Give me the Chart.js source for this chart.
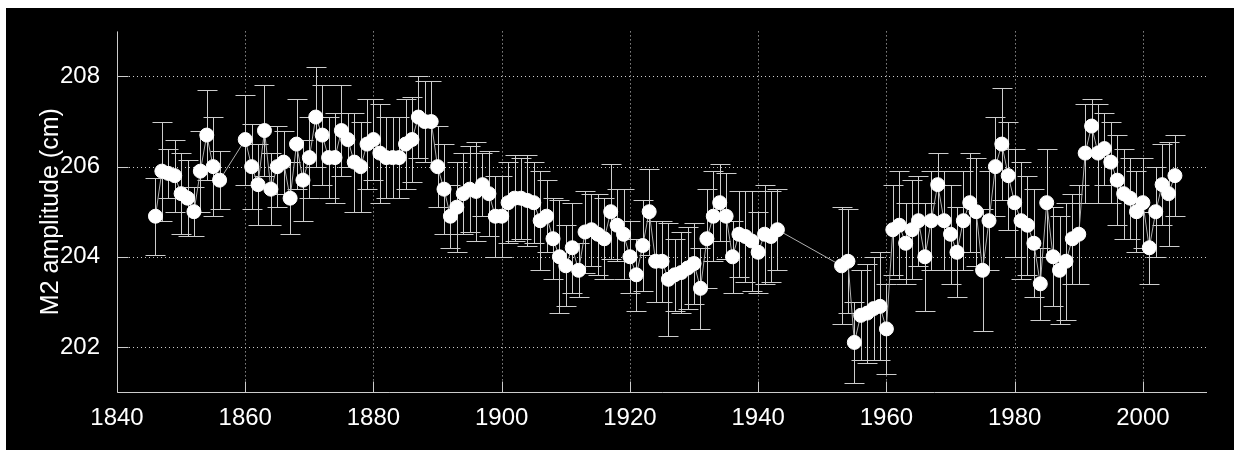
<!DOCTYPE html>
<html>
<head>
<meta charset="utf-8">
<script src="https://cdn.jsdelivr.net/npm/chart.js@4"></script>
<style>
  body { margin: 0; background: #fff; }
  #wrap { position: absolute; left: 6px; top: 8px; width: 1228px; height: 442px; background: #000; }
</style>
</head>
<body>
<div id="wrap"><canvas id="chart_1"></canvas></div>
<script>
// yearly M2 amplitude (gaps 1857-59 and 1944-52)
var years = [
  1846, 1847, 1848, 1849, 1850, 1851, 1852, 1853, 1854, 1855, 1856,
  1860, 1861, 1862, 1863, 1864, 1865, 1866, 1867, 1868, 1869,
  1870, 1871, 1872, 1873, 1874, 1875, 1876, 1877, 1878, 1879,
  1880, 1881, 1882, 1883, 1884, 1885, 1886, 1887, 1888, 1889,
  1890, 1891, 1892, 1893, 1894, 1895, 1896, 1897, 1898, 1899,
  1900, 1901, 1902, 1903, 1904, 1905, 1906, 1907, 1908, 1909,
  1910, 1911, 1912, 1913, 1914, 1915, 1916, 1917, 1918, 1919,
  1920, 1921, 1922, 1923, 1924, 1925, 1926, 1927, 1928, 1929,
  1930, 1931, 1932, 1933, 1934, 1935, 1936, 1937, 1938, 1939,
  1940, 1941, 1942, 1943,
  1953, 1954, 1955, 1956, 1957, 1958, 1959,
  1960, 1961, 1962, 1963, 1964, 1965, 1966, 1967, 1968, 1969,
  1970, 1971, 1972, 1973, 1974, 1975, 1976, 1977, 1978, 1979,
  1980, 1981, 1982, 1983, 1984, 1985, 1986, 1987, 1988, 1989,
  1990, 1991, 1992, 1993, 1994, 1995, 1996, 1997, 1998, 1999,
  2000, 2001, 2002, 2003, 2004, 2005
];
var amplitude = [
  204.9, 205.9, 205.85, 205.8, 205.4, 205.3, 205.0, 205.9, 206.7, 206.0, 205.7,
  206.6, 206.0, 205.6, 206.8, 205.5, 206.0, 206.1, 205.3, 206.5, 205.7,
  206.2, 207.1, 206.7, 206.2, 206.2, 206.8, 206.6, 206.1, 206.0, 206.5,
  206.6, 206.3, 206.2, 206.2, 206.2, 206.5, 206.6, 207.1, 207.0, 207.0,
  206.0, 205.5, 204.9, 205.1, 205.4, 205.5, 205.45, 205.6, 205.4, 204.9,
  204.9, 205.2, 205.3, 205.3, 205.25, 205.2, 204.8, 204.9, 204.4, 204.0,
  203.8, 204.2, 203.7, 204.55, 204.6, 204.5, 204.4, 205.0, 204.7, 204.5,
  204.0, 203.6, 204.25, 205.0, 203.9, 203.9, 203.5, 203.6, 203.65, 203.75,
  203.85, 203.3, 204.4, 204.9, 205.2, 204.9, 204.0, 204.5, 204.45, 204.35,
  204.1, 204.5, 204.45, 204.6,
  203.8, 203.9, 202.1, 202.7, 202.75, 202.85, 202.9,
  202.4, 204.6, 204.7, 204.3, 204.6, 204.8, 204.0, 204.8, 205.6, 204.8,
  204.5, 204.1, 204.8, 205.2, 205.0, 203.7, 204.8, 206.0, 206.5, 205.8,
  205.2, 204.8, 204.7, 204.3, 203.4, 205.2, 204.0, 203.7, 203.9, 204.4,
  204.5, 206.3, 206.9, 206.3, 206.4, 206.1, 205.7, 205.4, 205.3, 205.0,
  205.2, 204.2, 205.0, 205.6, 205.4, 205.8
];
// half length of each error bar (cm)
var errors = [
  0.85, 1.1, 0.55, 0.8, 0.9, 0.85, 0.55, 0.9, 1.0, 1.1, 0.65,
  1.0, 0.95, 0.9, 1.0, 0.8, 0.9, 0.7, 0.8, 1.0, 0.9,
  0.9, 1.1, 1.1, 0.9, 1.0, 1.0, 0.6, 1.1, 1.0, 1.0,
  0.9, 1.1, 0.9, 0.9, 0.9, 1.0, 0.95, 0.9, 0.9, 0.9,
  0.9, 1.0, 0.7, 1.0, 0.9, 0.95, 1.1, 0.7, 0.95, 0.9,
  0.9, 0.9, 0.95, 0.9, 1.0, 0.9, 1.1, 0.8, 0.9, 1.25,
  0.9, 1.0, 0.6, 0.9, 0.8, 0.9, 0.9, 1.05, 0.8, 1.0,
  0.8, 0.8, 1.0, 0.95, 0.9, 0.9, 1.25, 0.8, 0.9, 0.9,
  0.9, 0.9, 1.1, 1.0, 0.85, 0.95, 0.8, 0.95, 1.0, 1.1,
  0.9, 1.1, 1.0, 0.9,
  1.3, 1.15, 0.9, 1.0, 1.1, 1.15, 1.2,
  1.0, 1.0, 1.2, 0.9, 1.1, 1.0, 1.2, 1.1, 0.7, 1.1,
  1.1, 1.0, 1.1, 1.1, 1.2, 1.35, 1.1, 1.1, 1.25, 1.2,
  1.2, 1.3, 1.1, 1.2, 0.8, 1.2, 1.1, 1.2, 1.3, 1.0,
  1.1, 1.1, 0.6, 1.1, 0.8, 0.9, 1.0, 1.0, 0.9, 0.9,
  1.0, 0.8, 1.0, 0.9, 1.15, 0.9
];

var xTicks = [1840, 1860, 1880, 1900, 1920, 1940, 1960, 1980, 2000];
var yTicks = [202, 204, 206, 208];

var points = years.map(function (yr, i) { return { x: yr, y: amplitude[i] }; });

var LIGHT = "#cccccc";
var FONT = "'Liberation Sans', Arial, sans-serif";

const ctxval1 = document.getElementById("chart_1");

var myChart1 = new Chart(ctxval1, {
  type: "scatter",
  data: {
    datasets: [
      {
        label: "M2",
        data: points,
        showLine: true,
        borderColor: "#b0b0b0",
        borderWidth: 1,
        backgroundColor: "#fff",
        pointBackgroundColor: "#fff",
        pointBorderColor: "#fff",
        pointBorderWidth: 1,
        pointRadius: 7,
        pointHoverRadius: 7,
      },
    ],
  },
  options: {
    responsive: true,
    maintainAspectRatio: false,
    animation: false,
    layout: { padding: { left: 0, right: 27, top: 21, bottom: 0 } },
    plugins: {
      legend: { display: false },
      tooltip: { enabled: false },
    },
    scales: {
      x: {
        type: "linear",
        min: 1840,
        max: 2010,
        grid: { display: false },
        border: { display: false },
        afterBuildTicks: function (s) { s.ticks = xTicks.map(function (v) { return { value: v }; }); },
        afterFit: function (s) { s.height = 58; },
        ticks: {
          autoSkip: false,
          maxRotation: 0,
          padding: 4,
          color: "#fff",
          font: { family: FONT, size: 24 },
          callback: function (v) { return String(v); },
        },
      },
      y: {
        min: 201,
        max: 209,
        grid: { display: false },
        border: { display: false },
        afterBuildTicks: function (s) { s.ticks = yTicks.map(function (v) { return { value: v }; }); },
        afterFit: function (s) { s.width = 111; },
        ticks: {
          padding: 9,
          color: "#fff",
          font: { family: FONT, size: 24 },
        },
        title: {
          display: true,
          text: "M2 amplitude (cm)",
          color: "#fff",
          font: { family: FONT, size: 25 },
          padding: { top: 30, bottom: 0 },
        },
      },
    },
  },
  plugins: [
    //dotted grid, axis lines and inward ticks (matlab look)
    {
      id: "matlabAxes",
      beforeDatasetsDraw: function (chart) {
        const { ctx, chartArea: { left, right, top, bottom }, scales: { x, y } } = chart;
        ctx.save();
        ctx.strokeStyle = LIGHT;
        ctx.lineWidth = 1;
        ctx.setLineDash([1, 3]);
        ctx.beginPath();
        xTicks.forEach(function (v) {
          if (v === x.min) return;
          var px = Math.round(x.getPixelForValue(v)) + 0.5;
          ctx.moveTo(px, top);
          ctx.lineTo(px, bottom);
        });
        yTicks.forEach(function (v) {
          var py = Math.round(y.getPixelForValue(v)) + 0.5;
          ctx.moveTo(left, py);
          ctx.lineTo(right, py);
        });
        ctx.stroke();

        ctx.setLineDash([]);
        ctx.beginPath();
        var lx = Math.round(left) + 0.5;
        var by = Math.round(bottom) + 0.5;
        ctx.moveTo(lx, top);
        ctx.lineTo(lx, by);
        ctx.lineTo(right, by);
        xTicks.forEach(function (v) {
          var px = Math.round(x.getPixelForValue(v)) + 0.5;
          ctx.moveTo(px, by);
          ctx.lineTo(px, by - 11);
        });
        yTicks.forEach(function (v) {
          var py = Math.round(y.getPixelForValue(v)) + 0.5;
          ctx.moveTo(lx, py);
          ctx.lineTo(lx + 11, py);
        });
        ctx.stroke();
        ctx.restore();
      },
    },
    //error bars from the errors array
    {
      id: "errorBars",
      beforeDatasetsDraw: function (chart) {
        const { ctx, scales: { x, y } } = chart;
        ctx.save();
        ctx.strokeStyle = LIGHT;
        ctx.lineWidth = 1;
        ctx.beginPath();
        years.forEach(function (yr, i) {
          var px = Math.round(x.getPixelForValue(yr)) + 0.5;
          var t = Math.round(y.getPixelForValue(amplitude[i] + errors[i])) + 0.5;
          var b = Math.round(y.getPixelForValue(amplitude[i] - errors[i])) + 0.5;
          ctx.moveTo(px, t);
          ctx.lineTo(px, b);
          ctx.moveTo(px - 10, t);
          ctx.lineTo(px + 10, t);
          ctx.moveTo(px - 10, b);
          ctx.lineTo(px + 10, b);
        });
        ctx.stroke();
        ctx.restore();
      },
    },
  ],
});
</script>
</body>
</html>
